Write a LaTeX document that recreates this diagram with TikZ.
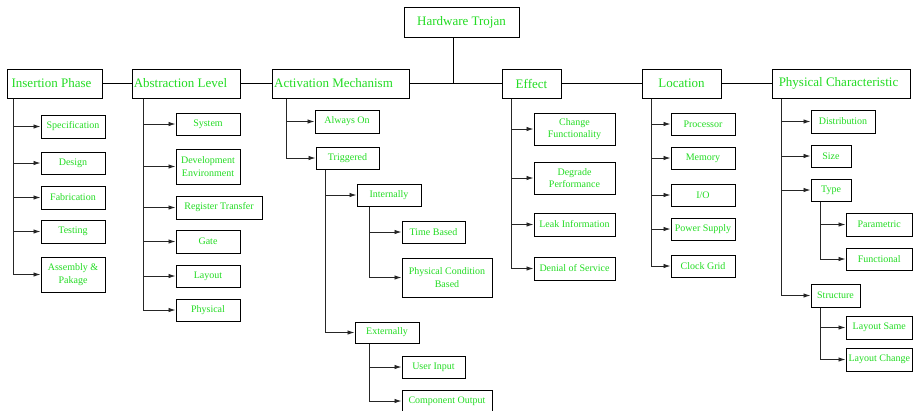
\documentclass[tikz,border=0pt]{standalone}
\usepackage{fontspec}
\setmainfont{Liberation Serif}
\usetikzlibrary{arrows.meta,calc}
\definecolor{tgreen}{RGB}{35,220,35}
\newcommand\bx[6]{\node[box,minimum width={(#4-#2)*1pt},minimum height={(#5-#3)*1pt}] (#1) at ({(#2+#4)/2},{(#3+#5)/2}) {#6};}
\begin{document}
\begin{tikzpicture}[x=1pt,y=-1pt,
  box/.style={draw=black,line width=1pt,inner sep=1pt,text=tgreen,align=center,
    font=\fontsize{10}{12.5}\selectfont},
  conn/.style={draw=black!85,line width=0.9pt,-{Latex[length=7pt,width=4.5pt]}},
  link/.style={draw=black,line width=0.9pt}]
\clip (0,0) rectangle (913,410);
\fill[white] (0,0) rectangle (913,410);
% top level
\bx{ht}{404}{7}{519}{37}{\fontsize{13}{15}\selectfont Hardware Trojan}
\bx{ins}{7}{69}{102}{98}{\fontsize{13}{15}\selectfont Insertion Phase\kern6pt}
\bx{abs}{132}{69}{240}{98}{\fontsize{13}{15}\selectfont Abstraction Level\kern11pt}
\bx{act}{272}{69}{409}{98}{\fontsize{13}{15}\selectfont Activation Mechanism\kern14pt}
\bx{eff}{502}{69}{561}{98}{\fontsize{13}{15}\selectfont Effect}
\bx{loc}{642}{69}{721}{98}{\fontsize{13}{15}\selectfont Location}
\bx{phc}{772}{69}{910}{98}{\fontsize{13}{15}\selectfont Physical Characteristic\kern5pt}
% Insertion children
\bx{spec}{41}{115}{105}{138}{Specification}
\bx{des}{41}{152}{105}{174}{Design}
\bx{fab}{41}{186}{105}{209}{Fabrication}
\bx{tes}{41}{220}{105}{243}{Testing}
\bx{asm}{41}{257}{105}{292}{Assembly \&\\Pakage}
% Abstraction children
\bx{sys}{176}{113}{240}{135}{System}
\bx{dev}{176}{149}{240}{184}{\fontsize{10}{15}\selectfont Development\\Environment}
\bx{reg}{176}{196}{262}{219}{Register Transfer}
\bx{gat}{176}{230}{240}{253}{Gate}
\bx{lay}{176}{265}{240}{287}{Layout}
\bx{phy}{176}{299}{240}{321}{Physical}
% Activation children
\bx{aon}{315}{110}{379}{133}{Always On}
\bx{trg}{316}{147}{379}{169}{Triggered}
\bx{int}{357}{184}{421}{206}{Internally}
\bx{tim}{402}{221}{465}{243}{Time Based}
\bx{pcb}{402}{258}{492}{297}{\fontsize{10}{15}\selectfont Physical Condition\\Based}
\bx{ext}{355}{322}{419}{343}{Externally}
\bx{usr}{402}{356}{465}{378}{User Input}
\bx{cmp}{402}{390}{492}{412}{Component Output}
% Effect children
\bx{chg}{534}{113}{615}{145}{Change\\Functionality}
\bx{deg}{534}{162}{615}{194}{Degrade\\Performance}
\bx{lek}{534}{213}{615}{236}{Leak Information}
\bx{dos}{534}{257}{615}{280}{Denial of Service}
% Location children
\bx{pro}{671}{113}{735}{135}{Processor}
\bx{mem}{671}{147}{735}{169}{Memory}
\bx{io}{671}{184}{735}{206}{I/O}
\bx{pow}{671}{218}{735}{240}{Power Supply}
\bx{clk}{671}{255}{735}{277}{Clock Grid}
% Physical characteristic children
\bx{dis}{811}{110}{875}{133}{Distribution}
\bx{siz}{811}{145}{851}{167}{Size}
\bx{typ}{811}{179}{851}{201}{Type}
\bx{par}{846}{213}{912.5}{236}{Parametric}
\bx{fun}{846}{248}{912.5}{270}{Functional}
\bx{str}{811}{284}{860}{307}{Structure}
\bx{lsm}{846}{316}{912.5}{339}{Layout Same}
\bx{lch}{846}{348}{912.5}{371}{Layout Change}
% top connectors
\draw[link] (ins) -- (abs);
\draw[link] (abs) -- (act);
\draw[link] (act) -- (eff);
\draw[link] (eff) -- (loc);
\draw[link] (loc) -- (phc);
\draw[link] ([xshift=-8.5pt]ht.south) -- ([xshift=-8.5pt]ht.south |- act.east);
% children connectors
\foreach \c in {spec,des,fab,tes,asm} \draw[conn] ([xshift=7pt]ins.south west) |- (\c.west);
\foreach \c in {sys,dev,reg,gat,lay,phy} \draw[conn] ([xshift=12pt]abs.south west) |- (\c.west);
\foreach \c in {aon,trg} \draw[conn] ([xshift=15pt]act.south west) |- (\c.west);
\foreach \c in {int,ext} \draw[conn] ([xshift=10pt]trg.south west) |- (\c.west);
\foreach \c in {tim,pcb} \draw[conn] ([xshift=13pt]int.south west) |- (\c.west);
\foreach \c in {usr,cmp} \draw[conn] ([xshift=15pt]ext.south west) |- (\c.west);
\foreach \c in {chg,deg,lek,dos} \draw[conn] ([xshift=10pt]eff.south west) |- (\c.west);
\foreach \c in {pro,mem,io,pow,clk} \draw[conn] ([xshift=10pt]loc.south west) |- (\c.west);
\foreach \c in {dis,siz,typ,str} \draw[conn] ([xshift=10pt]phc.south west) |- (\c.west);
\foreach \c in {par,fun} \draw[conn] ([xshift=10pt]typ.south west) |- (\c.west);
\foreach \c in {lsm,lch} \draw[conn] ([xshift=10pt]str.south west) |- (\c.west);
\end{tikzpicture}
\end{document}
